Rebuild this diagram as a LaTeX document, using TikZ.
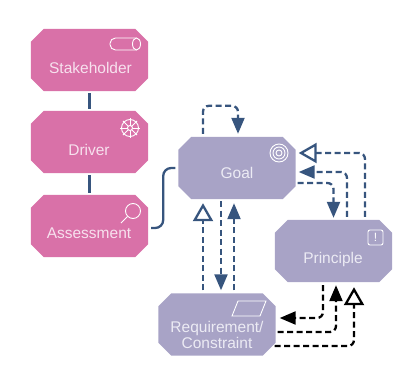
\documentclass[tikz,border=0pt]{standalone}
\usepackage{fontspec}
\setmainfont{Liberation Sans}
\usetikzlibrary{arrows.meta, positioning}

\definecolor{pinkfill}{HTML}{D971A8}
\definecolor{lilacfill}{HTML}{A8A3C6}
\definecolor{linkblue}{HTML}{37557E}
\definecolor{pinktext}{HTML}{F7E1EE}
\definecolor{lilactext}{HTML}{ECEBF4}

\newcommand{\chamferfill}[2]{%
  \fill[#2] ([xshift=13pt]#1.north west) -- ([xshift=-13pt]#1.north east)
    -- ([yshift=-13pt]#1.north east) -- ([yshift=13pt]#1.south east)
    -- ([xshift=-13pt]#1.south east) -- ([xshift=13pt]#1.south west)
    -- ([yshift=13pt]#1.south west) -- ([yshift=-13pt]#1.north west) -- cycle;}

\tikzset{
  box/.style={rectangle, minimum width=117pt, minimum height=62pt, inner sep=0pt, draw=none},
  boxtext/.style={font=\fontsize{15.5}{16}\selectfont, align=center, inner sep=0pt},
  icon/.style={draw=white, line width=0.9pt},
  link/.style={draw=linkblue, line width=2.3pt, rounded corners=6pt},
  dashlink/.style={link, dash pattern=on 6pt off 3.5pt},
  blacklink/.style={dashlink, draw=black},
  solidtip/.style={-{Triangle[length=16pt,width=13pt,fill=#1]}},
  opentip/.style={-{Triangle[length=18pt,width=20pt,open,fill=white,line width=2.3pt]}}
}

\begin{document}
\begin{tikzpicture}[x=1pt, y=-1pt]
\useasboundingbox (0,0) rectangle (418,367);
% Boxes
\node[box] (stakeholder) at (89.5,60) {};
\node[box] (driver) at (89.5,142) {};
\node[box] (assessment) at (89.5,226) {};
\node[box] (goal) at (237,168) {};
\node[box] (principle) at (333.5,251) {};
\node[box] (requirement) at (217,324.5) {};
\chamferfill{stakeholder}{pinkfill}
\chamferfill{driver}{pinkfill}
\chamferfill{assessment}{pinkfill}
\chamferfill{goal}{lilacfill}
\chamferfill{principle}{lilacfill}
\chamferfill{requirement}{lilacfill}
% Box texts
\node[boxtext, text=pinktext] (stakeholdertext) at (90.5,68) {Stakeholder};
\node[boxtext, text=pinktext] (drivertext) at (89,150) {Driver};
\node[boxtext, text=pinktext] (assessmenttext) at (89,233) {Assessment};
\node[boxtext, text=lilactext] (goaltext) at (237,173) {Goal};
\node[boxtext, text=lilactext] (principletext) at (333,259) {Principle};
\node[boxtext, text=lilactext] (requirementtext) at (217,335) {Requirement/\\Constraint};
% Icons
\draw[icon, rounded corners=5.5pt] (136,38) -- (110,38) -- (110,50) -- (136,50);
\draw[icon] (136.5,44) ellipse [x radius=4pt, y radius=6pt];
\draw[icon] (130,128) circle [radius=8.5pt];
\draw[icon] (130,128) circle [radius=2.5pt];
\foreach \ang in {0,45,...,315}
  \draw[icon] (130,128) ++(\ang:2.5pt) -- ++(\ang:7.5pt);
\draw[icon] (133,211) circle [radius=7.5pt];
\draw[icon] (127.5,216.5) -- (121,223);
\draw[icon] (279,153) circle [radius=9pt];
\draw[icon] (279,153) circle [radius=6pt];
\draw[icon] (279,153) circle [radius=3pt];
\draw[icon] (238,301) -- (266,301) -- (260,316) -- (232,316) -- cycle;
\draw[icon, rounded corners=2pt] (368,230) rectangle (383,245);
\node[boxtext, text=white, font=\fontsize{12}{13}\selectfont] (principlemark) at (375.5,237.5) {!};
% Solid links
\draw[link, line width=2.6pt] ([yshift=-2pt]stakeholder.south) -- ([yshift=2pt]driver.north);
\draw[link, line width=2.6pt] ([yshift=-2pt]driver.south) -- ([yshift=2pt]assessment.north);
\draw[link, rounded corners=8pt] ([xshift=3pt,yshift=-2pt]assessment.east) -- ++(12,0) |- ([xshift=-3pt]goal.west);
% Goal self link
\draw[dashlink, solidtip=linkblue] ([xshift=-34pt,yshift=3pt]goal.north) -- ++(0,-28) -- ++(35,0) -- ([xshift=1pt,yshift=3pt]goal.north);
% Goal and Principle
\draw[dashlink, opentip] ([xshift=31.5pt,yshift=3pt]principle.north) |- ([xshift=3pt,yshift=15pt]goal.east);
\draw[dashlink, solidtip=linkblue] ([xshift=13.5pt,yshift=3pt]principle.north) |- ([xshift=3pt,yshift=-4pt]goal.east);
\draw[dashlink, solidtip=linkblue] ([xshift=2pt,yshift=-15pt]goal.east) -| ([yshift=2pt]principle.north);
% Goal and Requirement
\draw[dashlink, opentip] ([xshift=-14pt,yshift=3pt]requirement.north) -- ([xshift=-34pt,yshift=-4pt]goal.south);
\draw[dashlink, solidtip=linkblue] ([xshift=-16pt,yshift=-2pt]goal.south) -- ([xshift=4pt,yshift=3pt]requirement.north);
\draw[dashlink, solidtip=linkblue] ([xshift=17pt,yshift=3pt]requirement.north) -- ([xshift=-3pt,yshift=-4pt]goal.south);
% Requirement and Principle
\draw[blacklink, solidtip=black] ([xshift=-10.5pt,yshift=-3pt]principle.south) |- ([xshift=4pt,yshift=6.5pt]requirement.east);
\draw[blacklink, solidtip=black] ([xshift=2pt,yshift=-7.5pt]requirement.east) -| ([xshift=2.5pt,yshift=-3pt]principle.south);
\draw[blacklink, opentip] ([xshift=-1pt,yshift=-21.5pt]requirement.east) -| ([xshift=20.5pt,yshift=-5pt]principle.south);
\end{tikzpicture}
\end{document}
